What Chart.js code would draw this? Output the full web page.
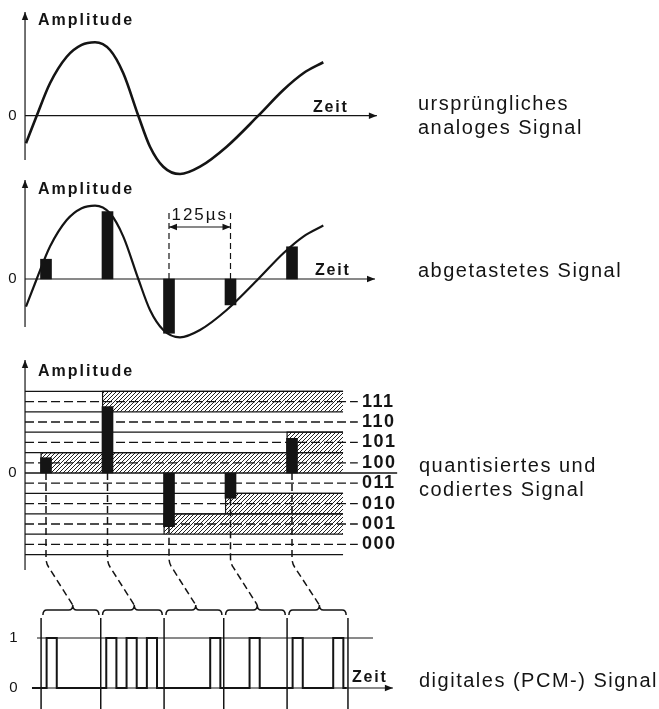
<!DOCTYPE html>
<html><head><meta charset="utf-8">
<script src="https://cdn.jsdelivr.net/npm/chart.js@4.4.0/dist/chart.umd.min.js"></script>
<style>html,body{margin:0;padding:0;background:#fff;overflow:hidden}canvas{display:block}</style>
</head><body>
<canvas id="c" width="659" height="709"></canvas>
<script>
// ---------- data (time in sample periods of 125 µs, amplitude in quantisation steps) ----------
const curveTime      = [-0.325, -0.151, 0.065, 0.337, 0.580, 0.797, 1.041, 1.257, 1.501, 1.691, 1.907, 2.179, 2.504, 2.938, 3.452, 3.859, 4.184, 4.509];
const curveAmplitude = [-1.35, 0, 1.59, 2.89, 3.47, 3.60, 3.22, 2.08, 0, -1.52, -2.50, -2.86, -2.50, -1.52, 0, 1.26, 2.08, 2.62];
const sampleTime = [0, 1, 2, 3, 4];
const sampledValues = [0.97, 3.30, -2.66, -1.27, 1.58];
const quantizedBarValues = [0.75, 3.25, -2.63, -1.24, 1.70];
const levelBoundaries = [-4, -3, -2, -1, 0, 1, 2, 3, 4];
const levelCenters = [-3.5, -2.5, -1.5, -0.5, 0.5, 1.5, 2.5, 3.5];
const codeLabels = ['000', '001', '010', '011', '100', '101', '110', '111'];
const sampleCodes = ['100', '111', '001', '010', '101'];
const wordBoundaries = [-0.08, 0.89, 1.92, 2.89, 3.92, 4.91];
const bitPulseStart = [0.09, 0.42, 0.75];
const bitPulseWidth = 0.165;
const digitalLevels = [0, 1];
const digitalLabels = ['0', '1'];

// ---------- layout ----------
const W = 659, H = 709;
const X0PX = 46, XPX = 61.5;
const panels = { y1: {zero: 115.7, k: 20.4}, y2: {zero: 279, k: 20.4}, y3: {zero: 473, k: 20.4}, y4: {zero: 688, k: 50} };
function range(p) { const max = p.zero / p.k; return {min: max - H / p.k, max: max}; }
const T_AXIS = -0.341, LEVEL_END_T = 4.83, DASH_END_T = 5.07, ZERO3_END_T = 5.71;
const BAR_HALF_T = 0.08, PCM_START_T = -0.228, PCM_END_T = 4.89;
const INK = '#141414';

const ctxMain = document.getElementById('c').getContext('2d');
function makeHatch() {
  const s = 4, tile = document.createElement('canvas');
  tile.width = s; tile.height = s;
  const g = tile.getContext('2d');
  g.fillStyle = '#fff'; g.fillRect(0, 0, s, s);
  g.strokeStyle = '#222'; g.lineWidth = 1.0;
  g.beginPath();
  g.moveTo(-1, s + 1); g.lineTo(s + 1, -1);
  g.moveTo(-1, 1); g.lineTo(1, -1);
  g.moveTo(s - 1, s + 1); g.lineTo(s + 1, s - 1);
  g.stroke();
  return ctxMain.createPattern(tile, 'repeat');
}
const hatch = makeHatch();
const pts = (xs, ys) => xs.map((x, i) => ({x: x, y: ys[i]}));

const datasets = [];
datasets.push({type: 'bar', label: 'abgetastet', yAxisID: 'y2', data: pts(sampleTime, sampledValues), backgroundColor: INK, barThickness: 11, grouped: false, order: 0});
datasets.push({type: 'bar', label: 'quantisiert', yAxisID: 'y3', data: pts(sampleTime, quantizedBarValues), backgroundColor: INK, barThickness: 11, grouped: false, order: 0});
const curveStyle = {type: 'line', borderColor: INK, borderWidth: 2.6, pointRadius: 0, cubicInterpolationMode: 'monotone', fill: false, order: 1};
datasets.push(Object.assign({label: 'analog', yAxisID: 'y1', data: pts(curveTime, curveAmplitude)}, curveStyle));
datasets.push(Object.assign({label: 'analog2', yAxisID: 'y2', data: pts(curveTime, curveAmplitude)}, curveStyle, {borderWidth: 2.2}));

const pcmPoints = [{x: PCM_START_T, y: digitalLevels[0]}];
sampleCodes.forEach((code, w) => {
  code.split('').forEach((b, k) => {
    if (b === '1') {
      const s = wordBoundaries[w] + bitPulseStart[k], e = s + bitPulseWidth;
      pcmPoints.push({x: s, y: 0}, {x: s, y: 1}, {x: e, y: 1}, {x: e, y: 0});
    }
  });
});
pcmPoints.push({x: PCM_END_T, y: 0});
datasets.push({type: 'line', label: 'PCM', yAxisID: 'y4', data: pcmPoints, borderColor: INK, borderWidth: 2, pointRadius: 0, tension: 0, borderJoinStyle: 'miter', fill: false, order: 1});

levelBoundaries.forEach(v => {
  datasets.push({type: 'line', label: 'grenze', yAxisID: 'y3', data: [{x: T_AXIS, y: v}, {x: v === 0 ? ZERO3_END_T : LEVEL_END_T, y: v}], borderColor: INK, borderWidth: 1.3, pointRadius: 0, fill: false, order: 2});
});
levelCenters.forEach(v => {
  datasets.push({type: 'line', label: 'stufe', yAxisID: 'y3', data: [{x: T_AXIS, y: v}, {x: DASH_END_T, y: v}], borderColor: INK, borderWidth: 1.3, borderDash: [9, 4], pointRadius: 0, fill: false, order: 2});
});
sampleCodes.forEach((code, i) => {
  const k = codeLabels.indexOf(code), lo = levelBoundaries[k], hi = levelBoundaries[k + 1];
  const t0 = sampleTime[i] - BAR_HALF_T;
  datasets.push({type: 'line', label: 'band ' + code, yAxisID: 'y3', data: [{x: t0, y: lo}, {x: t0, y: hi}, {x: LEVEL_END_T, y: hi}], fill: {value: lo}, backgroundColor: hatch, borderColor: INK, borderWidth: 1.2, pointRadius: 0, tension: 0, order: 3});
});

function txt(ctx, s, x, y, font, sp, align, base) {
  ctx.save();
  ctx.font = font; ctx.letterSpacing = (sp || 0) + 'px';
  ctx.textAlign = align || 'left'; ctx.textBaseline = base || 'alphabetic';
  ctx.fillStyle = INK; ctx.fillText(s, x, y);
  ctx.restore();
}
function arrow(ctx, x, y, dx, dy) {
  const L = 8, hw = 3.2, px = -dy, py = dx;
  ctx.beginPath();
  ctx.moveTo(x, y);
  ctx.lineTo(x - dx * L + px * hw, y - dy * L + py * hw);
  ctx.lineTo(x - dx * L - px * hw, y - dy * L - py * hw);
  ctx.closePath(); ctx.fill();
}
function seg(ctx, x1, y1, x2, y2, w, dash) {
  ctx.save(); ctx.lineWidth = w; ctx.setLineDash(dash || []);
  ctx.beginPath(); ctx.moveTo(x1, y1); ctx.lineTo(x2, y2); ctx.stroke(); ctx.restore();
}

const deco = {
  id: 'deco',
  afterDatasetsDraw(chart) {
    const ctx = chart.ctx, sx = chart.scales.x;
    const X = v => sx.getPixelForValue(v);
    const Y = (id, v) => chart.scales[id].getPixelForValue(v);
    ctx.save();
    ctx.strokeStyle = INK; ctx.fillStyle = INK;
    const xa = X(T_AXIS);
    // panel 1 axes
    seg(ctx, xa, Y('y1', -2.17), xa, Y('y1', 5.08), 1.2); arrow(ctx, xa, Y('y1', 5.08), 0, -1);
    seg(ctx, xa, Y('y1', 0), X(5.38), Y('y1', 0), 1.2); arrow(ctx, X(5.38), Y('y1', 0), 1, 0);
    // panel 2 axes
    seg(ctx, xa, Y('y2', -2.35), xa, Y('y2', 4.85), 1.2); arrow(ctx, xa, Y('y2', 4.85), 0, -1);
    seg(ctx, xa, Y('y2', 0), X(5.35), Y('y2', 0), 1.2); arrow(ctx, X(5.35), Y('y2', 0), 1, 0);
    // 125 µs dimension
    const yd = Y('y2', 2.55);
    [2, 3].forEach(t => seg(ctx, X(t), Y('y2', 3.24), X(t), Y('y2', 0), 1.2, [6, 4]));
    seg(ctx, X(2), yd, X(3), yd, 1.2);
    arrow(ctx, X(2), yd, -1, 0); arrow(ctx, X(3), yd, 1, 0);
    txt(ctx, '125\u00b5s', X(2.5), Y('y2', 2.89), '17px "Liberation Sans", Arial, sans-serif', 2, 'center');
    // panel 3 axis
    seg(ctx, xa, Y('y3', -4.75), xa, Y('y3', 5.54), 1.2); arrow(ctx, xa, Y('y3', 5.54), 0, -1);
    // dashed sample lines + connectors to the code words
    sampleTime.forEach((t, i) => {
      const v = quantizedBarValues[i];
      const xs = X(t), y0 = Y('y3', Math.min(0, v)), yb = Y('y3', -4.15);
      const xm = X((wordBoundaries[i] + wordBoundaries[i + 1]) / 2 + 0.03);
      ctx.save(); ctx.lineWidth = 1.5; ctx.setLineDash([7, 4]);
      ctx.beginPath(); ctx.moveTo(xs, y0); ctx.lineTo(xs, yb);
      ctx.quadraticCurveTo(xs, yb + 6, xs + 3, yb + 10);
      ctx.lineTo(xm, Y('y4', 1.66)); ctx.stroke(); ctx.restore();
    });
    // braces
    ctx.lineWidth = 1.5;
    for (let w = 0; w < sampleCodes.length; w++) {
      const a = X(wordBoundaries[w] + 0.03), b = X(wordBoundaries[w + 1] - 0.03);
      const m = X((wordBoundaries[w] + wordBoundaries[w + 1]) / 2 + 0.03);
      const yl = Y('y4', 1.56), yt = Y('y4', 1.66), ye = Y('y4', 1.46);
      ctx.beginPath();
      ctx.moveTo(a, ye); ctx.quadraticCurveTo(a, yl, a + 4, yl);
      ctx.lineTo(m - 4, yl); ctx.quadraticCurveTo(m, yl, m, yt);
      ctx.quadraticCurveTo(m, yl, m + 4, yl);
      ctx.lineTo(b - 4, yl); ctx.quadraticCurveTo(b, yl, b, ye);
      ctx.stroke();
    }
    // word boundaries
    wordBoundaries.forEach(t => seg(ctx, X(t), Y('y4', 1.4), X(t), Y('y4', -0.5), 1.5));
    // panel 4 levels
    seg(ctx, X(-0.146), Y('y4', 1), X(5.317), Y('y4', 1), 1);
    seg(ctx, X(-0.21), Y('y4', 0), X(5.64), Y('y4', 0), 1.2); arrow(ctx, X(5.64), Y('y4', 0), 1, 0);
    // texts
    const bold16 = 'bold 16px "Liberation Sans", Arial, sans-serif';
    const reg15 = '15px "Liberation Sans", Arial, sans-serif';
    const reg20 = '20px "Liberation Sans", Arial, sans-serif';
    txt(ctx, 'Amplitude', 38, 25, bold16, 2);
    txt(ctx, 'Amplitude', 38, 193.5, bold16, 2);
    txt(ctx, 'Amplitude', 38, 376, bold16, 2);
    txt(ctx, 'Zeit', 313, 111.5, bold16, 1.8);
    txt(ctx, 'Zeit', 315, 275, bold16, 1.8);
    txt(ctx, 'Zeit', 352, 682, bold16, 1.8);
    ['y1', 'y2', 'y3'].forEach(id => txt(ctx, '0', 12.5, Y(id, 0), reg15, 0, 'center', 'middle'));
    digitalLevels.forEach((v, i) => txt(ctx, digitalLabels[i], 13.5, Y('y4', v), reg15, 0, 'center', 'middle'));
    levelCenters.forEach((v, i) => txt(ctx, codeLabels[i], 362, Y('y3', v), 'bold 18px "Liberation Sans", Arial, sans-serif', 1.5, 'left', 'middle'));
    txt(ctx, 'urspr\u00fcngliches', 418, 110, reg20, 1.5);
    txt(ctx, 'analoges Signal', 418, 134, reg20, 1.5);
    txt(ctx, 'abgetastetes Signal', 418, 277, reg20, 1.5);
    txt(ctx, 'quantisiertes und', 419, 472, reg20, 1.5);
    txt(ctx, 'codiertes Signal', 419, 495.5, reg20, 1.5);
    txt(ctx, 'digitales (PCM-) Signal', 419, 687, reg20, 1.5);
    ctx.restore();
  }
};

const scales = {x: {type: 'linear', min: -X0PX / XPX, max: (W - X0PX) / XPX, display: false, offset: false}};
Object.keys(panels).forEach(id => { scales[id] = Object.assign({type: 'linear', display: false}, range(panels[id])); });

new Chart(ctxMain, {
  type: 'line',
  data: {datasets: datasets},
  options: {
    responsive: false, animation: false, events: [],
    layout: {padding: 0},
    plugins: {legend: {display: false}, tooltip: {enabled: false}, title: {display: false}},
    scales: scales
  },
  plugins: [deco]
});
</script>
</body></html>
